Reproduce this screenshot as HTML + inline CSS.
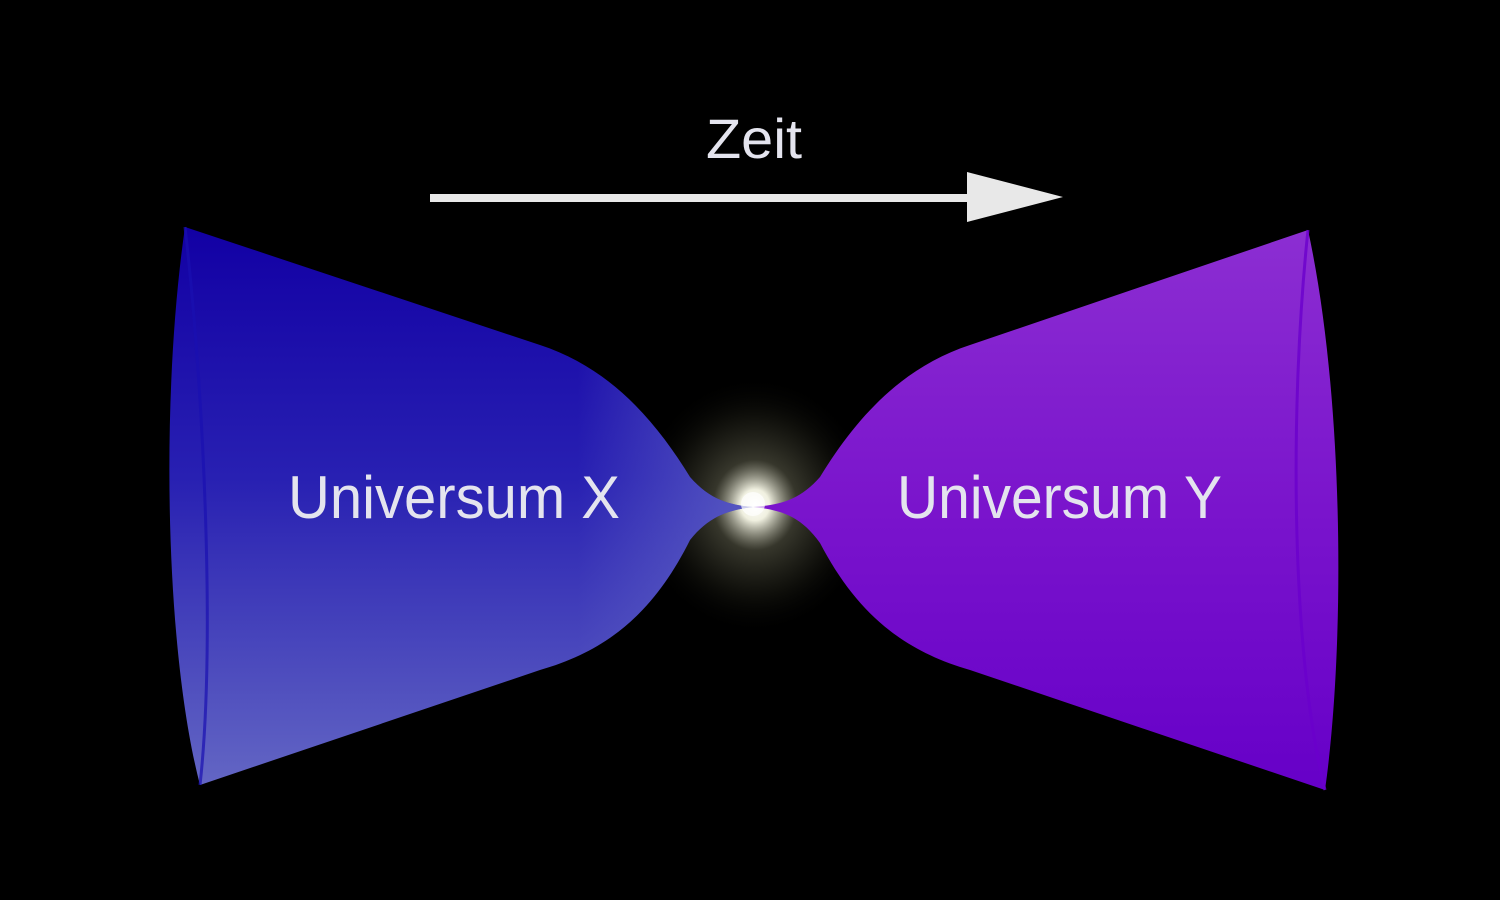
<!DOCTYPE html>
<html><head><meta charset="utf-8"><style>
html,body{margin:0;padding:0;background:#000;}
svg{display:block}
text{font-family:"Liberation Sans",sans-serif;fill:#e4e4ee}
</style></head><body>
<svg width="1500" height="900" viewBox="0 0 1500 900">
<defs>
<linearGradient id="gl" x1="0" y1="0" x2="0" y2="1">
<stop offset="0" stop-color="#1200a4"/><stop offset="0.45" stop-color="#2820b2"/><stop offset="1" stop-color="#6366c4"/>
</linearGradient>
<linearGradient id="gl2" x1="0" y1="0" x2="1" y2="0">
<stop offset="0" stop-color="#000" stop-opacity="0"/><stop offset="0.7" stop-color="#6a6ec8" stop-opacity="0"/><stop offset="1" stop-color="#6a6ec8" stop-opacity="0.7"/>
</linearGradient>
<linearGradient id="gr" x1="0" y1="0" x2="0" y2="1">
<stop offset="0" stop-color="#8c2ed2"/><stop offset="0.5" stop-color="#7a14cc"/><stop offset="1" stop-color="#6600c8"/>
</linearGradient>
<radialGradient id="glow" cx="0.5" cy="0.5" r="0.5">
<stop offset="0" stop-color="#ffffff"/><stop offset="0.12" stop-color="#f0f0e0"/><stop offset="0.35" stop-color="#5a5a48" stop-opacity="0.6"/><stop offset="0.7" stop-color="#1c1c14" stop-opacity="0.5"/><stop offset="1" stop-color="#000" stop-opacity="0"/>
</radialGradient>
</defs>
<ellipse cx="755" cy="505" rx="120" ry="130" fill="url(#glow)"/>
<path d="M185,227 L540,345 C610,368 655,420 690,477 C710,500 730,505 753,507 C730,510 710,515 690,540 C655,610 610,650 540,670 L200,785 C165,650 160,400 185,227 Z" fill="url(#gl)"/>
<path d="M185,227 L540,345 C610,368 655,420 690,477 C710,500 730,505 753,507 C730,510 710,515 690,540 C655,610 610,650 540,670 L200,785 C165,650 160,400 185,227 Z" fill="url(#gl2)"/>
<path d="M185,227 C205,400 215,650 200,785" fill="none" stroke="#1a10b0" stroke-width="3" opacity="0.7"/>
<path d="M1308,230 L970,345 C900,368 855,420 820,477 C800,500 780,505 753,507 C780,510 800,515 820,543 C855,610 900,650 970,670 L1325,790 C1345,650 1345,400 1308,230 Z" fill="url(#gr)"/>
<path d="M1308,230 C1290,400 1290,650 1325,790" fill="none" stroke="#6a00cc" stroke-width="3" opacity="0.8"/>
<circle cx="753" cy="504" r="12" fill="#fff" opacity="0.7"/>
<line x1="430" y1="198" x2="975" y2="198" stroke="#e8e8e8" stroke-width="8"/>
<polygon points="967,172 1063,197 967,222" fill="#e8e8e8"/>
<text x="706" y="158" font-size="56" textLength="96" lengthAdjust="spacingAndGlyphs">Zeit</text>
<text x="288" y="518" font-size="60" textLength="332" lengthAdjust="spacingAndGlyphs">Universum X</text>
<text x="897" y="518" font-size="60" textLength="325" lengthAdjust="spacingAndGlyphs">Universum Y</text>
</svg>
</body></html>
